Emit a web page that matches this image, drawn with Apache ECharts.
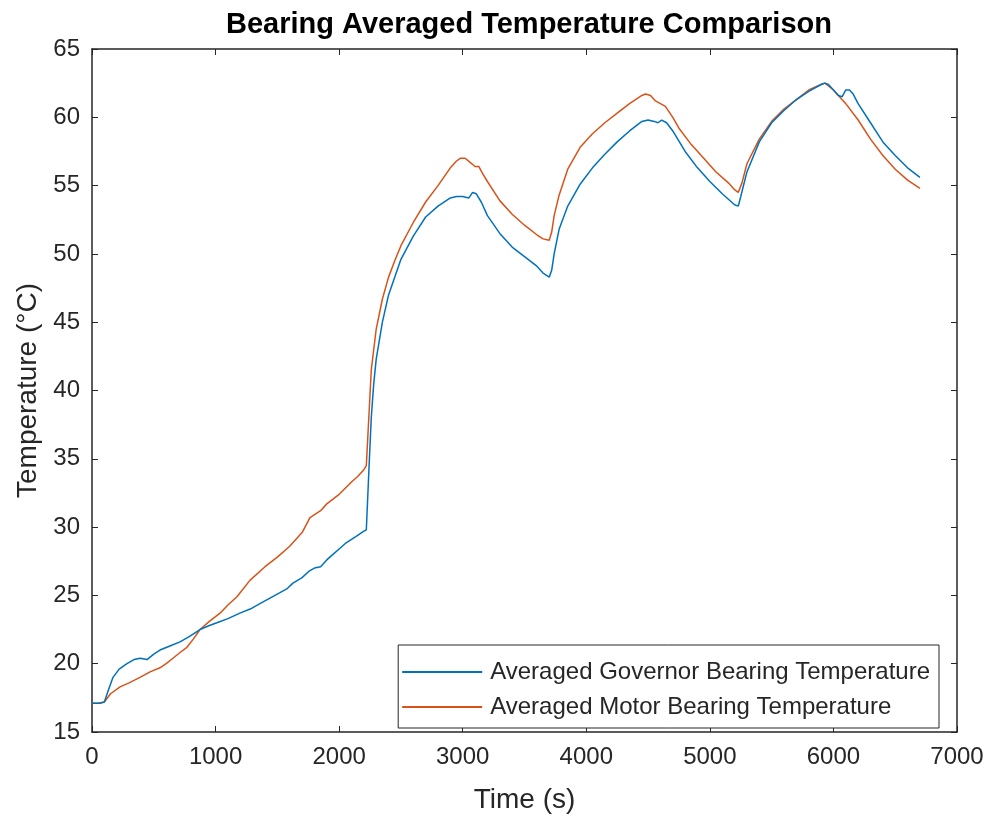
<!DOCTYPE html>
<html><head><meta charset="utf-8">
<script src="https://cdn.jsdelivr.net/npm/echarts@6/dist/echarts.min.js"></script>
<style>html,body{margin:0;padding:0;background:#fff}#c{width:993px;height:820px}</style>
</head><body><div id="c"></div>
<script>
const title = 'Bearing Averaged Temperature Comparison';
const xTicks = [0,1000,2000,3000,4000,5000,6000,7000];
const yTicks = [15,20,25,30,35,40,45,50,55,60,65];
const seriesNames = ['Averaged Governor Bearing Temperature','Averaged Motor Bearing Temperature'];
const govTime = [0,60,100,130,170,220,283,340,390,445,500,550,630,712,790,874,950,1011,1100,1197,1280,1359,1440,1521,1580,1626,1700,1760,1800,1850,1900,1950,2000,2050,2100,2150,2200,2220,2240,2260,2280,2300,2350,2400,2500,2600,2700,2800,2900,2950,3000,3050,3080,3110,3150,3200,3300,3400,3500,3600,3650,3700,3720,3740,3780,3850,3950,4050,4150,4250,4350,4450,4500,4550,4580,4610,4650,4700,4800,4900,5000,5100,5150,5200,5230,5250,5300,5400,5500,5600,5700,5800,5900,5930,5960,6000,6040,6070,6100,6130,6160,6200,6300,6400,6500,6600,6700];
const govTemp = [17.1,17.1,17.2,18.0,19.0,19.6,20.0,20.3,20.4,20.3,20.7,21.0,21.3,21.6,22.0,22.5,22.8,23.0,23.3,23.7,24.0,24.4,24.8,25.2,25.5,25.9,26.3,26.8,27.0,27.1,27.6,28.0,28.4,28.8,29.1,29.4,29.7,29.8,34,38,40.5,42.3,45,47,49.6,51.3,52.7,53.5,54.1,54.2,54.2,54.1,54.5,54.4,53.8,52.8,51.5,50.5,49.8,49.1,48.6,48.3,48.8,50,51.8,53.5,55.1,56.3,57.3,58.2,59.0,59.7,59.8,59.7,59.6,59.8,59.6,59.0,57.5,56.3,55.3,54.4,54.0,53.6,53.5,54.2,56,58.2,59.6,60.5,61.3,61.9,62.4,62.5,62.4,62.0,61.6,61.5,62.0,62.0,61.7,61.0,59.6,58.2,57.2,56.3,55.6];
const motorTime = [0,60,100,150,227,300,388,470,550,600,655,710,768,820,874,950,1036,1100,1173,1278,1400,1500,1600,1700,1764,1850,1900,2000,2100,2150,2200,2220,2240,2260,2280,2300,2350,2400,2450,2500,2600,2700,2800,2900,2950,2980,3020,3060,3100,3130,3160,3200,3300,3400,3500,3600,3650,3700,3720,3740,3780,3850,3950,4050,4150,4250,4350,4450,4480,4520,4560,4600,4640,4700,4750,4850,4950,5050,5150,5200,5230,5260,5300,5400,5500,5600,5700,5800,5900,5930,5960,6000,6100,6200,6300,6400,6500,6600,6700];
const motorTemp = [17.1,17.1,17.2,17.8,18.3,18.6,19.0,19.4,19.7,20.0,20.4,20.8,21.2,21.8,22.5,23.1,23.7,24.3,24.9,26.1,27.1,27.8,28.6,29.6,30.7,31.2,31.7,32.4,33.3,33.7,34.2,34.5,38,41.5,43,44.5,46.7,48.3,49.5,50.6,52.3,53.8,55.0,56.3,56.8,57.0,57.0,56.7,56.4,56.4,55.9,55.3,53.9,52.9,52.1,51.4,51.1,51.0,51.6,52.8,54.3,56.2,57.8,58.8,59.6,60.3,61.0,61.6,61.7,61.6,61.2,61.0,60.8,60.0,59.2,58.0,57.0,56.0,55.2,54.7,54.5,55.2,56.6,58.4,59.7,60.6,61.3,62.0,62.4,62.5,62.3,62.0,61.0,59.8,58.4,57.2,56.2,55.4,54.8];

const govData = govTime.map((t,i)=>[t,govTemp[i]]);
const motorData = motorTime.map((t,i)=>[t,motorTemp[i]]);
const font = '"Liberation Sans", Arial, Helvetica, sans-serif';
const axColor = '#262626';
const chart = echarts.init(document.getElementById('c'), null, {renderer:'canvas'});
const baseX = {type:'value', min:xTicks[0], max:xTicks[xTicks.length-1], interval:1000,
  axisLine:{show:true, onZero:false, lineStyle:{color:axColor, width:1.5}},
  axisTick:{show:true, inside:true, length:6, lineStyle:{color:axColor, width:1}},
  splitLine:{show:false}};
const baseY = {type:'value', min:yTicks[0], max:yTicks[yTicks.length-1], interval:5,
  axisLine:{show:true, onZero:false, lineStyle:{color:axColor, width:1.5}},
  axisTick:{show:true, inside:true, length:6, lineStyle:{color:axColor, width:1}},
  splitLine:{show:false}};
chart.setOption({
  animation:false,
  backgroundColor:'#fff',
  title:{text:title, left:221, top:5, textStyle:{fontFamily:font, fontSize:29, fontWeight:'bold', color:'#000'}},
  grid:{left:92, right:36, top:49, bottom:88, containLabel:false},
  legend:{orient:'vertical', right:54, bottom:92, backgroundColor:'#fff', borderColor:axColor, borderWidth:1,
    padding:[15,9,9,4], itemWidth:80, itemHeight:2, itemGap:11, icon:'rect',
    textStyle:{fontFamily:font, fontSize:24, color:'#262626', padding:[0,0,0,3]},
    data:seriesNames},
  xAxis:[
    Object.assign({}, baseX, {position:'bottom', name:'Time (s)', nameLocation:'middle', nameGap:54,
      nameTextStyle:{fontFamily:font, fontSize:28, color:'#262626'},
      axisLabel:{show:true, margin:13, fontFamily:font, fontSize:24, color:'#262626', formatter:v=>String(v)}}),
    Object.assign({}, baseX, {position:'top', axisLabel:{show:false}})
  ],
  yAxis:[
    Object.assign({}, baseY, {position:'left', name:'Temperature (°C)', nameLocation:'middle', nameGap:48,
      nameTextStyle:{fontFamily:font, fontSize:28, color:'#262626'},
      axisLabel:{show:true, margin:12, fontFamily:font, fontSize:24, color:'#262626', formatter:v=>String(v)}}),
    Object.assign({}, baseY, {position:'right', axisLabel:{show:false}})
  ],
  series:[
    {name:seriesNames[0], type:'line', data:govData, showSymbol:false, symbol:'none', color:'#0072BD', lineStyle:{width:1.5, color:'#0072BD'}, z:3},
    {name:seriesNames[1], type:'line', data:motorData, showSymbol:false, symbol:'none', color:'#D95319', lineStyle:{width:1.5, color:'#D95319'}, z:2}
  ]
});
</script></body></html>
